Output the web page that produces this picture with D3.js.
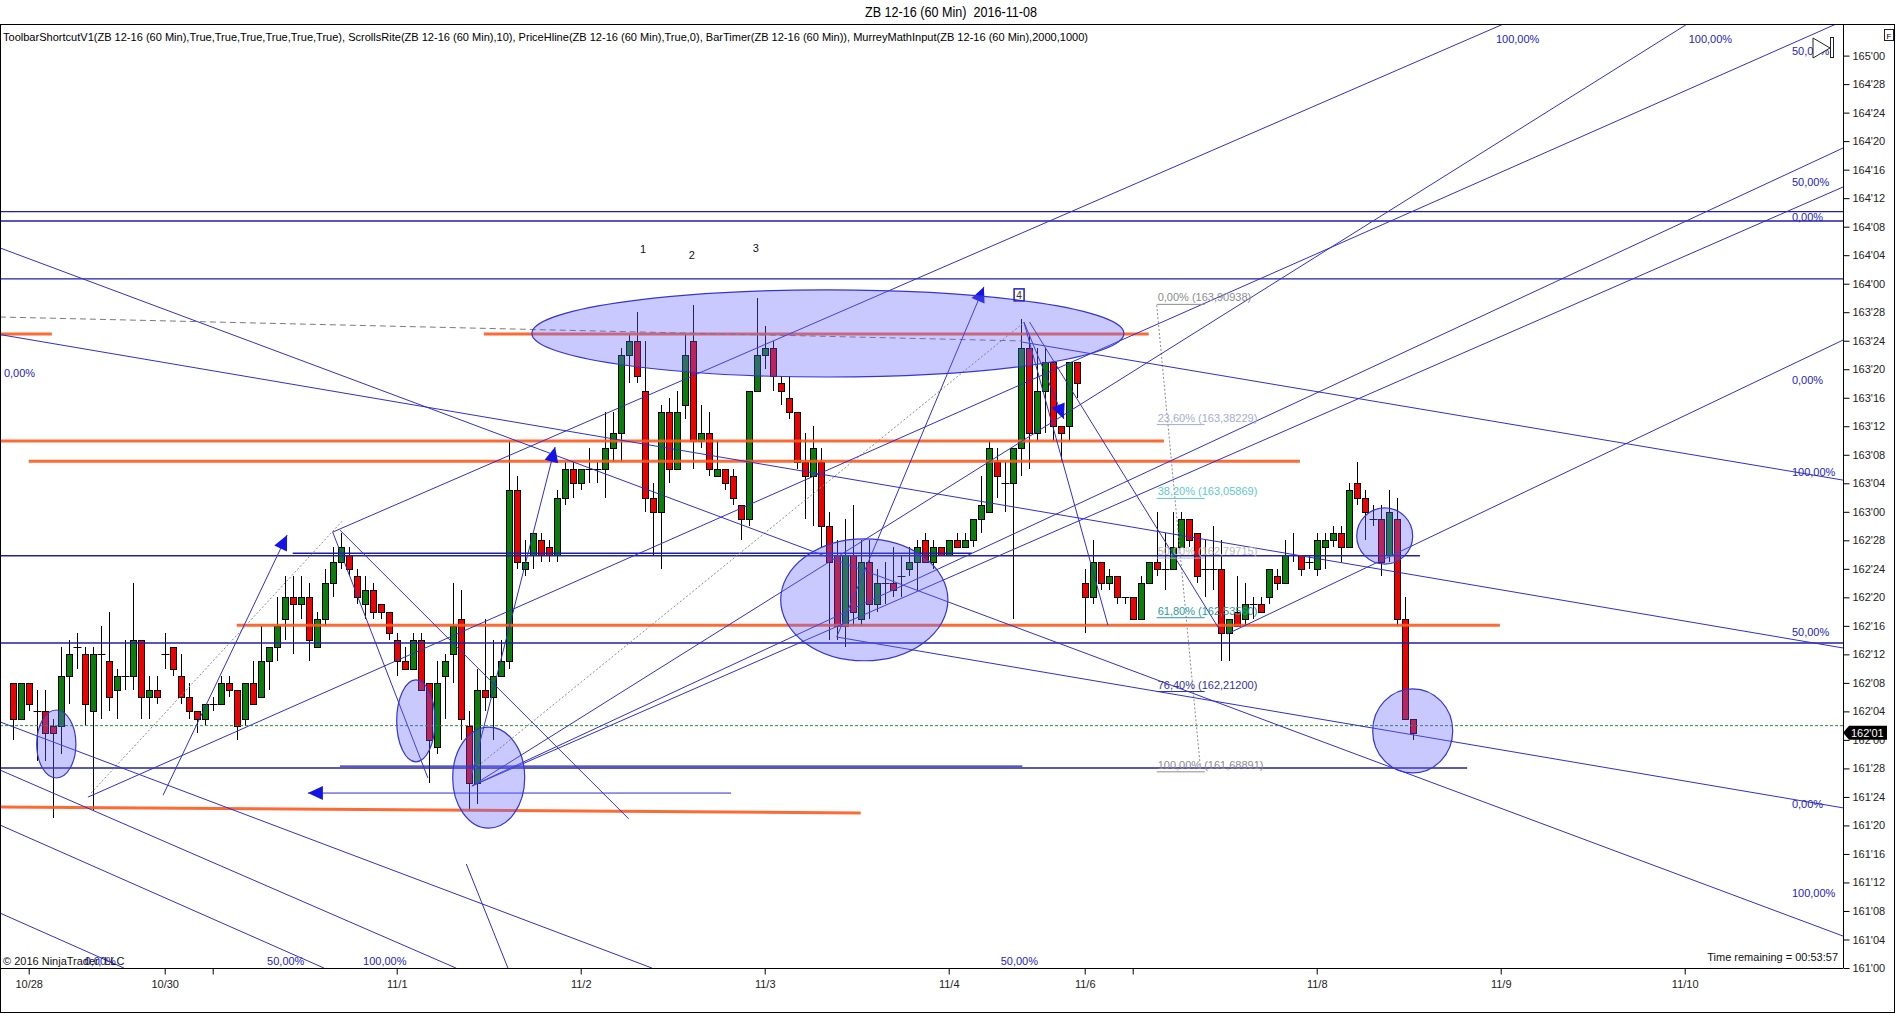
<!DOCTYPE html>
<html>
<head>
<meta charset="utf-8">
<title>ZB 12-16 (60 Min) 2016-11-08</title>
<script src="https://cdn.jsdelivr.net/npm/d3@7/dist/d3.min.js"></script>
<style>
html,body{margin:0;padding:0;background:#fff;}
svg{display:block;}
text{font-family:"Liberation Sans",Arial,Helvetica,sans-serif;}
</style>
</head>
<body>
<svg id="chart" width="1896" height="1014"></svg>
<script>
// ================= DATA =================
const chartTitle = "ZB 12-16 (60 Min)\u00a0 2016-11-08";
const indicatorLine = "ToolbarShortcutV1(ZB 12-16 (60 Min),True,True,True,True,True,True), ScrollsRite(ZB 12-16 (60 Min),10), PriceHline(ZB 12-16 (60 Min),True,0), BarTimer(ZB 12-16 (60 Min)), MurreyMathInput(ZB 12-16 (60 Min),2000,1000)";
const copyrightText = "\u00a9 2016 NinjaTrader, LLC";
const timerText = "Time remaining = 00:53:57";

// 60-min OHLC, ZB quote notation (162.08 = 162'08 = 162 + 8/32)
const open = [162.08,162.03,162.08,162.04,162.04,162.02,162.02,162.09,162.13,162.12,162.04,162.12,162.11,162.07,162.09,162.09,162.14,162.06,162.07,162.12,
162.13,162.09,162.06,162.04,162.03,162.05,162.05,162.08,162.07,162.03,162.08,162.06,162.11,162.13,162.17,162.20,162.19,162.20,162.13,162.17,
162.22,162.25,162.26,162.23,162.19,162.21,162.19,162.18,162.14,162.11,162.10,162.14,162.08,161.31,162.09,162.12,162.17,162.02,161.26,162.07,
162.06,162.09,162.11,163.03,162.24,162.26,162.28,162.27,162.26,163.02,163.06,163.04,163.06,163.06,163.06,163.09,163.11,163.22,163.24,163.17,
163.02,163.00,163.14,163.06,163.15,163.24,163.10,163.11,163.05,163.06,163.05,163.01,162.31,163.17,163.22,163.23,163.18,163.16,163.14,163.07,
163.05,163.07,162.30,162.26,162.16,162.26,162.17,162.25,162.19,162.22,162.22,162.23,162.24,162.25,162.28,162.25,162.27,162.26,162.28,162.27,
162.28,162.31,163.00,163.07,163.04,163.04,163.09,163.23,163.11,163.17,163.21,163.12,163.12,163.21,162.22,162.20,162.25,162.22,162.23,162.20,
162.20,162.17,162.22,162.25,162.24,162.24,162.27,162.31,162.29,162.24,162.24,162.24,162.15,162.18,162.17,162.19,162.19,162.20,162.23,162.22,
162.26,162.26,162.25,162.24,162.27,162.28,162.29,162.27,163.04,163.02,162.31,162.31,162.26,162.31,162.17,162.03];
const high = [162.08,162.08,162.08,162.07,162.07,162.03,162.13,162.14,162.15,162.13,162.13,162.16,162.18,162.10,162.14,162.22,162.14,162.09,162.09,162.15,
162.13,162.12,162.08,162.04,162.05,162.06,162.09,162.09,162.07,162.08,162.11,162.16,162.13,162.20,162.23,162.23,162.23,162.22,162.18,162.24,
162.27,162.29,162.27,162.24,162.23,162.22,162.19,162.18,162.15,162.13,162.15,162.15,162.08,162.11,162.12,162.22,162.21,162.04,162.10,162.17,
162.14,162.14,163.10,163.05,162.28,162.29,162.29,162.28,163.03,163.07,163.07,163.06,163.09,163.07,163.14,163.14,163.23,163.25,163.28,163.24,
163.04,163.15,163.16,163.17,163.25,163.29,163.15,163.14,163.10,163.06,163.06,163.01,163.17,163.30,163.26,163.24,163.19,163.19,163.14,163.11,
163.12,163.09,163.00,162.28,162.31,163.01,162.28,162.28,162.24,162.25,162.27,162.26,162.27,162.28,162.29,162.28,162.27,162.28,162.29,162.29,
162.31,163.05,163.10,163.09,163.07,163.09,163.27,163.25,163.23,163.23,163.21,163.12,163.21,163.21,162.24,162.28,162.25,162.24,162.23,162.20,
162.20,162.23,162.25,163.00,162.29,163.00,163.00,162.31,162.29,162.28,162.30,162.28,162.17,162.23,162.22,162.20,162.20,162.24,162.24,162.28,
162.29,162.26,162.26,162.29,162.29,162.30,162.30,163.04,163.07,163.03,163.01,163.01,163.03,163.02,162.20,162.03];
const low = [162.00,162.03,162.04,161.29,161.29,161.21,161.30,162.05,162.10,162.02,161.22,162.03,162.04,162.03,162.07,162.07,162.03,162.03,162.05,162.10,
162.09,162.05,162.03,162.01,162.02,162.04,162.05,162.06,162.00,162.02,162.05,162.06,162.07,162.11,162.14,162.12,162.17,162.11,162.13,162.16,
162.20,162.24,162.23,162.19,162.17,162.17,162.17,162.14,162.09,162.10,162.10,162.07,161.26,161.30,162.03,162.08,162.00,161.22,161.23,162.04,
162.00,162.09,162.10,162.24,162.23,162.24,162.25,162.25,162.25,163.01,163.02,163.03,163.04,163.04,163.02,163.07,163.07,163.18,163.18,163.00,
162.26,162.24,163.04,163.06,163.13,163.06,163.09,163.05,163.05,163.03,163.01,162.28,162.30,163.17,163.20,163.17,163.15,163.13,163.06,162.31,
162.30,162.27,162.14,162.14,162.13,162.16,162.16,162.17,162.18,162.19,162.20,162.20,162.23,162.21,162.25,162.24,162.26,162.26,162.27,162.27,
162.27,162.29,163.00,163.02,163.00,162.17,163.05,163.06,163.10,163.11,163.10,163.07,163.10,163.16,162.15,162.19,162.21,162.21,162.19,162.19,
162.17,162.17,162.22,162.23,162.21,162.24,162.27,162.27,162.22,162.20,162.21,162.11,162.11,162.16,162.16,162.17,162.18,162.19,162.21,162.22,
162.25,162.23,162.24,162.23,162.24,162.27,162.25,162.27,163.01,162.28,162.30,162.23,162.25,162.16,162.03,162.00];
const close = [162.03,162.08,162.05,162.04,162.01,162.01,162.09,162.12,162.13,162.05,162.12,162.12,162.06,162.09,162.09,162.14,162.06,162.07,162.06,162.12,
162.10,162.06,162.04,162.03,162.05,162.05,162.08,162.07,162.02,162.08,162.05,162.11,162.13,162.16,162.20,162.19,162.20,162.14,162.17,162.22,
162.25,162.27,162.24,162.20,162.21,162.18,162.18,162.15,162.11,162.10,162.14,162.07,162.00,162.08,162.11,162.16,162.03,161.26,162.07,162.06,
162.09,162.11,163.03,162.25,162.25,162.29,162.26,162.26,163.02,163.06,163.04,163.06,163.06,163.06,163.09,163.11,163.22,163.24,163.19,163.02,
163.00,163.14,163.06,163.14,163.22,163.10,163.11,163.06,163.06,163.04,163.02,162.31,163.17,163.22,163.23,163.19,163.17,163.14,163.07,163.05,
163.09,162.30,162.25,162.16,162.26,162.18,162.25,162.19,162.22,162.22,162.21,162.23,162.25,162.27,162.25,162.27,162.26,162.28,162.27,162.28,
162.31,163.01,163.09,163.05,163.04,163.09,163.23,163.11,163.17,163.21,163.12,163.11,163.21,163.18,162.20,162.25,162.22,162.23,162.20,162.20,
162.17,162.22,162.25,162.24,162.24,162.27,162.31,162.28,162.23,162.24,162.24,162.15,162.17,162.16,162.19,162.19,162.18,162.24,162.22,162.26,
162.26,162.24,162.25,162.28,162.28,162.29,162.27,163.03,163.02,163.00,162.31,162.25,163.00,162.17,162.03,162.01];

// session ticks on the time axis (bar index) and their labels
const dateTickBars   = [2, 19, 25, 48, 71, 94, 117, 134, 140, 163, 186, 209];
const dateTickLabels = ["10/28","10/30","","11/1","11/2","11/3","11/4","11/6","","11/8","11/9","11/10"];

// price axis labels
const priceTickLabels = ["161'00","161'04","161'08","161'12","161'16","161'20","161'24","161'28",
"162'00","162'04","162'08","162'12","162'16","162'20","162'24","162'28",
"163'00","163'04","163'08","163'12","163'16","163'20","163'24","163'28",
"164'00","164'04","164'08","164'12","164'16","164'20","164'24","164'28","165'00"];
const lastPriceLabel = "162'01";
const priceLine = 162.0625;

// drawing objects (bar index, price)
const blueHLines = [ // [price, fromBar, toBar]
  [164.316,-2,229],[164.275,-2,229],[164.021,-2,229],[162.807,-2,175.9],
  [162.818,35.0,119.9],[162.425,-2,229],[161.877,-2,181.8],[161.885,40.9,126.2]];
const orangeLines = [ // [bar1, price1, bar2, price2]
  [58.9,163.779,142.0,163.779],[-2,163.779,4.9,163.779],[-2,163.310,143.9,163.310],
  [2.0,163.222,160.9,163.222],[28.0,162.503,185.9,162.503],[-2,161.706,106.0,161.680]];
const blueLines = [ // [bar1, price1, bar2, price2]
  [-1.6,163.777,228.8,162.403],[-1.6,164.157,228.8,161.140],[9.4,161.749,228.8,165.152],
  [103.0,162.451,228.8,161.702],[126.2,163.744,228.8,163.139],[40.0,162.911,186.9,165.147],
  [57.4,161.798,209.7,165.147],[57.4,161.798,228.8,164.595],[57.4,161.798,228.8,164.424],
  [151.8,162.464,228.8,163.753],[-1.6,162.079,79.9,161.0],[-1.6,161.868,55.4,161.0],
  [-1.6,161.241,13.9,161.0],[-1.6,161.627,38.9,161.0],[56.7,161.456,61.9,161.0],
  [40.0,162.911,51.9,161.833],[40.9,162.920,77.0,161.654],[126.4,163.832,136.9,162.503],
  [127.1,163.832,150.9,162.481]];
const arrowLines = [ // [bar1, price1, bar2, price2] head at second point
  [18.8,161.758,34.3,162.898],[57.2,161.824,67.8,163.284],[103.0,162.451,121.4,163.986],
  [126.4,163.832,131.4,163.407],[89.8,161.767,36.9,161.767]];
const grayDashed = [[-1.6,163.854,126.2,163.749]];
const grayDotted = [[9.8,161.767,41.2,162.960],[57.4,161.864,126.2,163.824],[143.0,163.906,148.5,161.864]];
const ellipses = [ // [bar1, bar2, priceTop, priceBottom]
  [64.9,138.9,163.973,163.591],[96.0,116.9,162.881,162.347],[3.0,7.9,162.131,161.833],
  [48.0,52.8,162.263,161.904],[55.0,64.0,162.056,161.613],[168.0,175.0,163.017,162.771],
  [170.0,180.0,162.224,161.855]];
const fibLevels = [
  {label:"0,00% (163,90938)",  price:163.90938, color:"#8c8c8c"},
  {label:"23,60% (163,38229)", price:163.38229, color:"#a3add0"},
  {label:"38,20% (163,05869)", price:163.05869, color:"#5ccaca"},
  {label:"50,00% (162,79715)", price:162.79715, color:"#bdbdbd"},
  {label:"61,80% (162,53560)", price:162.53560, color:"#2c9a9a"},
  {label:"76,40% (162,21200)", price:162.21200, color:"#33339a"},
  {label:"100,00% (161,68891)",price:161.86,    color:"#8c8c8c"}];
const fibStartBar = 143.0, fibEndBar = 149.0;
const pctLabels = [ // [text, bar, price]
  ["100,00%",185.4,165.072],["100,00%",209.5,165.072],["50,00%",222.4,165.021],
  ["50,00%",222.4,164.447],["0,00%",222.4,164.292],["0,00%",222.4,163.578],
  ["100,00%",222.4,163.175],["50,00%",222.4,162.473],["0,00%",222.4,161.719],
  ["100,00%",222.4,161.329],["0,00%",-1.1,163.608],["0,00%",9.0,161.03],
  ["50,00%",31.8,161.03],["100,00%",43.8,161.03],["50,00%",123.5,161.03]];
const swingLabels = [["1",78.8,164.152],["2",84.9,164.126],["3",92.9,164.156]];
const boxLabel = ["4",125.8,163.951];

// ================= DRAW =================
const qn = v => { const w = Math.floor(v + 1e-9); return w + Math.round((v - w) * 100) / 32; };
const qs = s => { const p = s.split("'"); return +p[0] + (+p[1]) / 32; };

const P = {l:0, r:1843, t:24, b:968};
const x = d3.scaleLinear().domain([0,175]).range([12.7,1412.7]);
const y = d3.scaleLinear().domain([161,165]).range([968,55.6]);

const svg = d3.select("#chart");
svg.append("rect").attr("width",1896).attr("height",1014).attr("fill","#fff");
svg.append("defs").append("clipPath").attr("id","plotclip")
  .append("rect").attr("x",P.l).attr("y",P.t).attr("width",P.r-P.l).attr("height",P.b-P.t);

// title + indicator line
svg.append("text").attr("x",951).attr("y",17).attr("text-anchor","middle")
  .attr("font-size",14).attr("textLength",172).attr("lengthAdjust","spacingAndGlyphs").text(chartTitle);
svg.append("text").attr("x",3).attr("y",41).attr("font-size",11)
  .attr("textLength",1085).attr("lengthAdjust","spacingAndGlyphs").text(indicatorLine);

const g = svg.append("g").attr("clip-path","url(#plotclip)");

// candles
const bars = open.map((o,i)=>({i, o:qn(o), h:qn(high[i]), l:qn(low[i]), c:qn(close[i])}));
const cg = g.append("g");
bars.forEach(d=>{
  const cx = Math.round(x(d.i)) + 0.5;
  cg.append("line").attr("x1",cx).attr("x2",cx).attr("y1",Math.round(y(d.h))).attr("y2",Math.round(y(d.l)))
    .attr("stroke","#000").attr("stroke-width",1);
  if (Math.abs(d.o - d.c) < 1e-9) {
    const yy = Math.round(y(d.o)) + 0.5;
    cg.append("line").attr("x1",cx-4).attr("x2",cx+4).attr("y1",yy).attr("y2",yy).attr("stroke","#000");
  } else {
    const top = Math.round(y(Math.max(d.o,d.c))) + 0.5, bot = Math.round(y(Math.min(d.o,d.c))) + 0.5;
    cg.append("rect").attr("x",cx-3).attr("y",top).attr("width",6).attr("height",Math.max(1,bot-top))
      .attr("fill", d.c > d.o ? "#0a7f0a" : "#f20000").attr("stroke","#000").attr("stroke-width",1);
  }
});

// price line (current)
g.append("line").attr("x1",P.l).attr("x2",P.r).attr("y1",y(priceLine)).attr("y2",y(priceLine))
  .attr("stroke","#2e8b2e").attr("stroke-width",1).attr("stroke-dasharray","3,2");

// horizontal blue lines
g.selectAll(".hl").data(blueHLines).enter().append("line")
  .attr("x1",d=>x(d[1])).attr("x2",d=>x(d[2])).attr("y1",d=>y(d[0])).attr("y2",d=>y(d[0]))
  .attr("stroke","#1f1fa8").attr("stroke-width",1.4);

// orange lines
g.selectAll(".ol").data(orangeLines).enter().append("line")
  .attr("x1",d=>x(d[0])).attr("y1",d=>y(d[1])).attr("x2",d=>x(d[2])).attr("y2",d=>y(d[3]))
  .attr("stroke","#ff5a1e").attr("stroke-width",3).attr("stroke-opacity",0.9);

// gray dashed/dotted
g.selectAll(".gd").data(grayDashed).enter().append("line")
  .attr("x1",d=>x(d[0])).attr("y1",d=>y(d[1])).attr("x2",d=>x(d[2])).attr("y2",d=>y(d[3]))
  .attr("stroke","#7a7a7a").attr("stroke-width",1).attr("stroke-dasharray","6,4");
g.selectAll(".gt").data(grayDotted).enter().append("line")
  .attr("x1",d=>x(d[0])).attr("y1",d=>y(d[1])).attr("x2",d=>x(d[2])).attr("y2",d=>y(d[3]))
  .attr("stroke","#8a8a8a").attr("stroke-width",1).attr("stroke-dasharray","2,2");

// blue trend lines
g.selectAll(".bl").data(blueLines).enter().append("line")
  .attr("x1",d=>x(d[0])).attr("y1",d=>y(d[1])).attr("x2",d=>x(d[2])).attr("y2",d=>y(d[3]))
  .attr("stroke","#2f2fd2").attr("stroke-width",1);

// arrows
arrowLines.forEach(d=>{
  const x1=x(d[0]), y1=y(d[1]), x2=x(d[2]), y2=y(d[3]);
  g.append("line").attr("x1",x1).attr("y1",y1).attr("x2",x2).attr("y2",y2).attr("stroke","#2f2fd2").attr("stroke-width",1);
  const a = Math.atan2(y2-y1, x2-x1), L = 15, Wd = 7;
  const bx = x2 - L*Math.cos(a), by = y2 - L*Math.sin(a);
  const pts = [[x2,y2],[bx + Wd*Math.sin(a), by - Wd*Math.cos(a)],[bx - Wd*Math.sin(a), by + Wd*Math.cos(a)]];
  g.append("polygon").attr("points",pts.map(p=>p.join(",")).join(" ")).attr("fill","#1414e6");
});

// fib retracement
fibLevels.forEach(f=>{
  const yy = y(f.price);
  g.append("line").attr("x1",x(fibStartBar)).attr("x2",x(fibEndBar)).attr("y1",yy).attr("y2",yy)
    .attr("stroke",f.color).attr("stroke-width",1);
  g.append("text").attr("x",x(fibStartBar)+1).attr("y",yy-3).attr("font-size",11).attr("fill",f.color).text(f.label);
});

// ellipses
g.selectAll(".el").data(ellipses).enter().append("ellipse")
  .attr("cx",d=>(x(d[0])+x(d[1]))/2).attr("cy",d=>(y(d[2])+y(d[3]))/2)
  .attr("rx",d=>(x(d[1])-x(d[0]))/2).attr("ry",d=>(y(d[3])-y(d[2]))/2)
  .attr("fill","#6464ff").attr("fill-opacity",0.35).attr("stroke","#3434d8").attr("stroke-width",1.2);

// percent labels
g.selectAll(".pl").data(pctLabels).enter().append("text")
  .attr("x",d=>x(d[1])).attr("y",d=>y(d[2])+4).attr("font-size",11).attr("fill","#2323c0").text(d=>d[0]);

// swing labels
g.selectAll(".sl").data(swingLabels).enter().append("text")
  .attr("x",d=>x(d[1])).attr("y",d=>y(d[2])+4).attr("font-size",11).attr("text-anchor","middle").attr("fill","#111").text(d=>d[0]);
const bxX = x(boxLabel[1]), bxY = y(boxLabel[2]);
g.append("rect").attr("x",bxX-5).attr("y",bxY-6).attr("width",10).attr("height",12).attr("fill","none").attr("stroke","#1f1fd0").attr("stroke-width",1.5);
g.append("text").attr("x",bxX).attr("y",bxY+4).attr("font-size",10).attr("text-anchor","middle").attr("fill","#333").text(boxLabel[0]);

// copyright & timer
svg.append("text").attr("x",3).attr("y",965).attr("font-size",11).attr("fill","#111").text(copyrightText);
svg.append("text").attr("x",1838).attr("y",961).attr("font-size",11).attr("text-anchor","end").attr("fill","#111").text(timerText);

// ---- axes ----
const yAxis = d3.axisRight(y).tickValues(priceTickLabels.map(qs)).tickSize(6).tickPadding(3)
  .tickFormat((d,i)=>priceTickLabels[i]);
const ya = svg.append("g").attr("transform",`translate(${P.r+0.5},0)`).call(yAxis);
ya.select(".domain").attr("d",`M0,${P.t}V${P.b}`);
ya.selectAll("text").attr("font-size",11).attr("fill","#222").attr("font-family","Liberation Sans, Arial, sans-serif");

const xAxis = d3.axisBottom(x).tickValues(dateTickBars).tickSize(6).tickPadding(6)
  .tickFormat((d,i)=>dateTickLabels[i]);
const xa = svg.append("g").attr("transform",`translate(0,${P.b+0.5})`).call(xAxis);
xa.select(".domain").attr("d",`M${P.l},0H${P.r}`);
xa.selectAll("text").attr("font-size",11).attr("fill","#222").attr("font-family","Liberation Sans, Arial, sans-serif");

// last price marker
const yl = y(qn(close[close.length-1]));
svg.append("polygon").attr("points",`${P.r},${yl} ${P.r+6},${yl-7} ${P.r+44},${yl-7} ${P.r+44},${yl+7} ${P.r+6},${yl+7}`).attr("fill","#000");
svg.append("text").attr("x",P.r+8).attr("y",yl+4).attr("font-size",11).attr("fill","#fff").text(lastPriceLabel);

// frame
svg.append("rect").attr("x",0.5).attr("y",P.t+0.5).attr("width",1894).attr("height",1012-P.t).attr("fill","none").attr("stroke","#000").attr("stroke-width",1);

// toolbar icons
svg.append("polygon").attr("points","1813,38 1830,48 1813,58").attr("fill","#fff").attr("stroke","#222");
svg.append("rect").attr("x",1830.5).attr("y",37.5).attr("width",3).attr("height",20).attr("fill","#fff").attr("stroke","#222");
svg.append("rect").attr("x",1884.5).attr("y",29.5).attr("width",9).attr("height",11).attr("fill","#fff").attr("stroke","#222");
svg.append("text").attr("x",1889).attr("y",38.5).attr("font-size",8).attr("text-anchor","middle").text("F");
</script>
</body>
</html>
